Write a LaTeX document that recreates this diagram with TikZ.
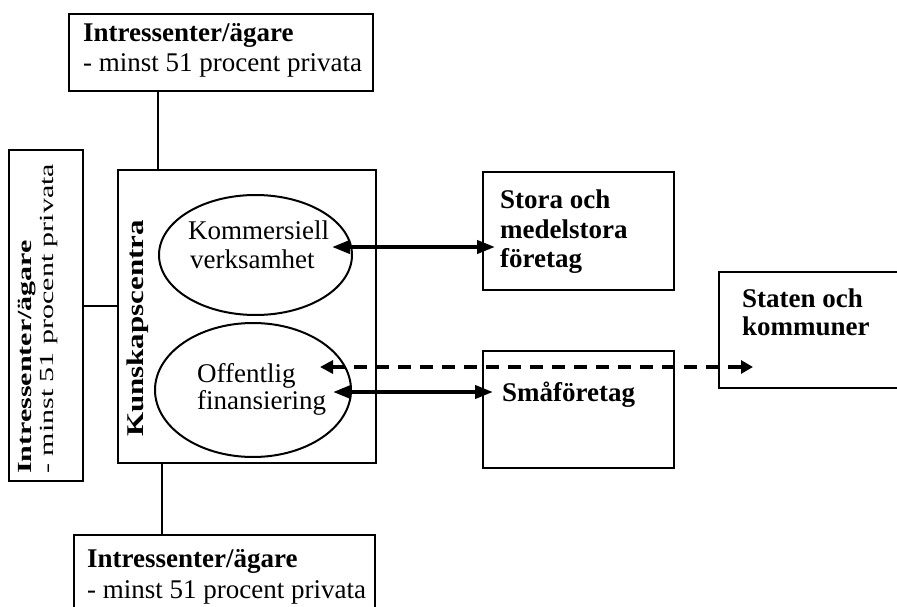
\documentclass[tikz,border=0pt]{standalone}
\usepackage{fontspec}
\setmainfont{Liberation Serif}
\usetikzlibrary{arrows.meta,shapes.geometric}
\begin{document}
\begin{tikzpicture}[x=1pt,y=-1pt]
\tikzset{
  box/.style={draw, line width=2pt, inner sep=0pt, outer sep=0pt, anchor=north west},
  oval/.style={draw, ellipse, line width=2pt, inner sep=0pt, outer sep=0pt},
  txt/.style={anchor=base west, inner sep=0pt, font=\fontsize{27}{30}\selectfont},
  boldtxt/.style={anchor=base west, inner sep=0pt, font=\fontsize{27}{30}\selectfont\bfseries},
  sidetxt/.style={anchor=base west, inner sep=0pt, rotate=90, font=\fontsize{20}{22}\selectfont},
  sidebold/.style={sidetxt, font=\fontsize{20}{22}\selectfont\bfseries},
  link/.style={line width=2pt},
  flow/.style={line width=4pt, {Triangle[length=18pt,width=13pt]}-{Triangle[length=18pt,width=13pt]}},
  dashflow/.style={line width=3.2pt, dash pattern=on 13pt off 9pt,
    {Triangle[length=13pt,width=13pt]}-{Triangle[length=12pt,width=13pt]}}
}
\useasboundingbox (0,0) rectangle (897,607);

% owner boxes
\node[box, minimum width=304pt, minimum height=77pt] (top) at (69,14) {};
\node[boldtxt] (top1) at (83,42) {Intressenter/ägare};
\node[txt] (top2) at (83,72) {- minst 51 procent privata};

\node[box, minimum width=74pt, minimum height=331pt] (left) at (9,150) {};
\node[sidebold] (left1) at (31,474) {\scalebox{1.5}[1]{Intressenter/ägare}};
\node[sidetxt] (left2) at (53,474) {\scalebox{1.5}[1]{- minst 51 procent privata}};

\node[box, minimum width=301pt, minimum height=90pt] (bottom) at (74,535) {};
\node[boldtxt] (bot1) at (87,567) {Intressenter/ägare};
\node[txt] (bot2) at (87,598) {- minst 51 procent privata};

% knowledge centre
\node[box, minimum width=258pt, minimum height=293pt] (centre) at (118,170) {};
\node[anchor=base west, inner sep=0pt, rotate=90, font=\fontsize{24}{26}\selectfont\bfseries]
  (kc) at (143,437) {\scalebox{1.29}[1]{Kunskapscentra}};

\node[oval, minimum width=193pt, minimum height=120pt] (kom) at (255.5,255) {};
\node[txt] (kom1) at (188,239) {Kommersiell};
\node[txt] (kom2) at (190,268) {verksamhet};

\node[oval, minimum width=196pt, minimum height=134pt] (off) at (253,390) {};
\node[txt] (off1) at (197,382) {Offentlig};
\node[txt] (off2) at (197,409) {finansiering};

% partner boxes
\node[box, minimum width=191pt, minimum height=118pt] (stora) at (483,172) {};
\node[boldtxt] (stora1) at (500,208) {Stora och};
\node[boldtxt] (stora2) at (500,238) {medelstora};
\node[boldtxt] (stora3) at (500,267) {företag};

\node[box, minimum width=191pt, minimum height=117pt] (sma) at (483,351) {};
\node[boldtxt] (sma1) at (502,401) {Småföretag};

\node[box, minimum width=200pt, minimum height=116pt] (staten) at (719,272) {};
\node[boldtxt] (staten1) at (742,307) {Staten och};
\node[boldtxt] (staten2) at (742,335) {kommuner};

% owner links
\coordinate (stemTop) at (158,0);
\coordinate (stemLeft) at (0,306);
\coordinate (stemBot) at (162,0);
\draw[link] (top.south -| stemTop) -- (centre.north -| stemTop);
\draw[link] (left.east |- stemLeft) -- (centre.west |- stemLeft);
\draw[link] (centre.south -| stemBot) -- (bottom.north -| stemBot);

% flows
\coordinate (komTip) at (332,247);
\coordinate (storaTip) at (495,247);
\coordinate (offTip) at (333,392);
\coordinate (smaTip) at (493,392);
\coordinate (offDash) at (320,367);
\coordinate (statenTip) at (753,367);
\draw[flow] (komTip) -- (storaTip);
\draw[flow] (offTip) -- (smaTip);
\draw[dashflow] (offDash) -- (statenTip);
\end{tikzpicture}
\end{document}
